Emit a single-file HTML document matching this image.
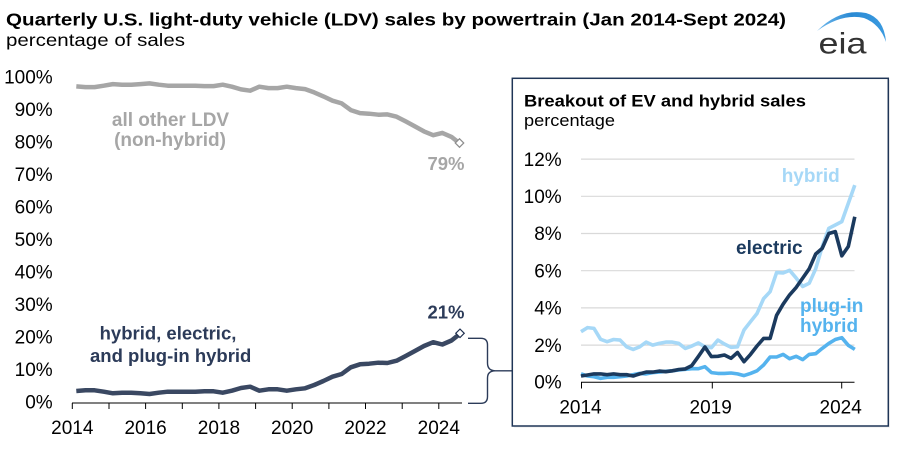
<!DOCTYPE html>
<html><head><meta charset="utf-8"><style>
html,body{margin:0;padding:0;background:#fff;}
svg{display:block;font-family:"Liberation Sans",Arial,sans-serif;}
</style></head><body>
<svg width="900" height="454" viewBox="0 0 900 454" xmlns="http://www.w3.org/2000/svg">
<defs><linearGradient id="g" x1="0" x2="1" y1="0" y2="0"><stop offset="0" stop-color="#6fb8ec"/><stop offset="0.5" stop-color="#2a8ad4"/><stop offset="1" stop-color="#3b9be0"/></linearGradient></defs>
<rect width="900" height="454" fill="#fff"/>
<!-- title -->
<text x="6" y="25.5" font-size="17.5" font-weight="bold" fill="#000" textLength="780" lengthAdjust="spacingAndGlyphs">Quarterly U.S. light-duty vehicle (LDV) sales by powertrain (Jan 2014-Sept 2024)</text>
<text x="6" y="46" font-size="17.5" fill="#000" textLength="179" lengthAdjust="spacingAndGlyphs">percentage of sales</text>
<!-- eia logo -->
<path d="M817,31 Q840,8 866,13 Q884,18 886,42 Q880,24 864,18 Q842,13 817,31 Z" fill="url(#g)"/>
<text x="818.5" y="53.3" font-size="30" fill="#333" textLength="48" lengthAdjust="spacingAndGlyphs">eia</text>

<!-- main y labels -->
<g font-size="19" fill="#000" text-anchor="end">
<text x="52.7" y="83.3">100%</text>
<text x="52.7" y="115.8">90%</text>
<text x="52.7" y="148.3">80%</text>
<text x="52.7" y="180.8">70%</text>
<text x="52.7" y="213.3">60%</text>
<text x="52.7" y="245.8">50%</text>
<text x="52.7" y="278.3">40%</text>
<text x="52.7" y="310.8">30%</text>
<text x="52.7" y="343.3">20%</text>
<text x="52.7" y="375.8">10%</text>
<text x="52.7" y="408.3">0%</text>
</g>
<!-- main x axis -->
<g stroke="#000" stroke-width="1">
<line x1="72" y1="403" x2="462" y2="403"/>
<line x1="72.3" y1="403" x2="72.3" y2="409"/>
<line x1="109" y1="403" x2="109" y2="409"/>
<line x1="145.6" y1="403" x2="145.6" y2="409"/>
<line x1="182.3" y1="403" x2="182.3" y2="409"/>
<line x1="218.9" y1="403" x2="218.9" y2="409"/>
<line x1="255.6" y1="403" x2="255.6" y2="409"/>
<line x1="292.2" y1="403" x2="292.2" y2="409"/>
<line x1="328.9" y1="403" x2="328.9" y2="409"/>
<line x1="365.5" y1="403" x2="365.5" y2="409"/>
<line x1="402.2" y1="403" x2="402.2" y2="409"/>
<line x1="438.8" y1="403" x2="438.8" y2="409"/>
</g>
<g font-size="19" fill="#000" text-anchor="middle">
<text x="72.3" y="434">2014</text>
<text x="145.6" y="434">2016</text>
<text x="218.9" y="434">2018</text>
<text x="292.2" y="434">2020</text>
<text x="365.5" y="434">2022</text>
<text x="438.8" y="434">2024</text>
</g>
<!-- main series -->
<polyline fill="none" stroke="#a6a6a6" stroke-width="4.5" stroke-linejoin="round" points="76.3,86.4 85.5,87.1 94.6,87.1 103.8,85.7 112.9,84.1 122.1,84.7 131.2,84.7 140.4,84.1 149.5,83.4 158.7,84.7 167.8,85.7 177,85.7 186.1,85.7 195.3,85.7 204.4,86.1 213.6,86.1 222.7,84.7 231.9,86.7 241,89.4 250.2,90.7 259.3,86.7 268.5,88.1 277.6,88.1 286.8,86.7 295.9,88.1 305.1,89.1 314.2,92.4 323.4,96.4 332.5,100.7 341.7,103.4 350.8,110.1 360,113.1 369.1,113.7 378.3,114.7 387.4,114.4 396.6,116.7 405.7,121.4 414.9,126.4 424,131.4 433.2,135.2 442.3,132.9 451.5,136.9 460.6,144.1"/>
<polyline fill="none" stroke="#3a4862" stroke-width="4.5" stroke-linejoin="round" points="76.3,391 85.5,390.3 94.6,390.3 103.8,391.7 112.9,393.3 122.1,392.7 131.2,392.7 140.4,393.3 149.5,394 158.7,392.7 167.8,391.7 177,391.7 186.1,391.7 195.3,391.7 204.4,391.3 213.6,391.3 222.7,392.7 231.9,390.7 241,388 250.2,386.7 259.3,390.7 268.5,389.3 277.6,389.3 286.8,390.7 295.9,389.3 305.1,388.3 314.2,385 323.4,381 332.5,376.7 341.7,374 350.8,367.3 360,364.3 369.1,363.7 378.3,362.7 387.4,363 396.6,360.7 405.7,356 414.9,351 424,346 433.2,342.2 442.3,344.5 451.5,340.5 460.6,333.3"/>
<rect x="456.5" y="140" width="6" height="6" fill="#fff" stroke="#8c8c8c" stroke-width="1.2" transform="rotate(45 459.5 143)"/>
<rect x="457" y="330.3" width="6" height="6" fill="#fff" stroke="#1f2f4f" stroke-width="1.2" transform="rotate(45 460 333.3)"/>
<!-- main labels -->
<g font-size="19" font-weight="bold" text-anchor="middle">
<text x="170.5" y="126" fill="#a6a6a6">all other LDV</text>
<text x="170" y="146" fill="#a6a6a6">(non-hybrid)</text>
<text x="446" y="170" fill="#a6a6a6" font-size="18.5">79%</text>
<text x="446" y="318.5" fill="#2c3b59" font-size="18.5">21%</text>
<text x="168" y="339.5" fill="#2c3b59" font-size="18.5">hybrid, electric,</text>
<text x="170.7" y="362" fill="#2c3b59" font-size="18.5">and plug-in hybrid</text>
</g>
<!-- brace -->
<path d="M468,338.3 L481,338.3 Q487.5,338.3 487.5,345 L487.5,363 Q487.5,370.5 495,370.8 L512,370.8 M495,370.8 Q487.5,371 487.5,378 L487.5,396.5 Q487.5,403.3 481,403.3 L468,403.3" fill="none" stroke="#2c3b59" stroke-width="1.4"/>

<!-- inset box -->
<rect x="514" y="80" width="376" height="347.7" fill="#e6e6e6" opacity="0.6"/>
<rect x="512.3" y="78.3" width="376" height="347.7" fill="#fff" stroke="#1f3557" stroke-width="1.5"/>
<text x="524" y="106.7" font-size="16.3" font-weight="bold" fill="#000" textLength="282" lengthAdjust="spacingAndGlyphs">Breakout of EV and hybrid sales</text>
<text x="524" y="126" font-size="16.3" fill="#000" textLength="91" lengthAdjust="spacingAndGlyphs">percentage</text>
<!-- gridlines -->
<g stroke="#d9d9d9" stroke-width="1.2">
<line x1="581" y1="159.1" x2="854.5" y2="159.1"/>
<line x1="581" y1="196.3" x2="854.5" y2="196.3"/>
<line x1="581" y1="233.5" x2="854.5" y2="233.5"/>
<line x1="581" y1="270.7" x2="854.5" y2="270.7"/>
<line x1="581" y1="307.9" x2="854.5" y2="307.9"/>
<line x1="581" y1="345.1" x2="854.5" y2="345.1"/>
</g>
<g font-size="19" fill="#000" text-anchor="end">
<text x="561.7" y="165.8">12%</text>
<text x="561.7" y="203">10%</text>
<text x="561.7" y="240.2">8%</text>
<text x="561.7" y="277.4">6%</text>
<text x="561.7" y="314.6">4%</text>
<text x="561.7" y="351.8">2%</text>
<text x="561.7" y="388.6">0%</text>
</g>
<g stroke="#000" stroke-width="1">
<line x1="581" y1="382.3" x2="854.5" y2="382.3"/>
<line x1="581.5" y1="382.3" x2="581.5" y2="388.5"/>
<line x1="712.3" y1="382.3" x2="712.3" y2="388.5"/>
<line x1="841.7" y1="382.3" x2="841.7" y2="388.5"/>
</g>
<g font-size="19" fill="#000" text-anchor="middle">
<text x="580.5" y="413.3">2014</text>
<text x="710.7" y="413.3">2019</text>
<text x="840.7" y="413.3">2024</text>
</g>
<!-- inset series -->
<polyline fill="none" stroke="#a6d8f7" stroke-width="3.6" stroke-linejoin="round" points="581,331.7 587.5,327.6 594,328.4 600.6,339.3 607.1,341.7 613.6,339.5 620.1,340.1 626.6,346.8 633.2,349.4 639.7,346.8 646.2,342.1 652.7,345.1 659.2,343.4 665.8,342.1 672.3,342.1 678.8,343.4 685.3,348.4 691.8,346 698.4,342.9 704.9,346.8 711.4,347.7 717.9,340.1 724.4,344 731,347.3 737.5,346.8 744,330 750.5,321.7 757,313.5 763.6,298.6 770.1,291.7 776.6,272.6 783.1,272.9 789.6,270.3 796.2,278.1 802.7,286.5 809.2,283.3 815.7,268.8 822.2,246.7 828.8,228.3 835.3,225 841.8,221.6 848.3,203.4 854.8,185.1"/>
<polyline fill="none" stroke="#55b3ee" stroke-width="3.6" stroke-linejoin="round" points="581,373.9 587.5,376 594,376.7 600.6,378.4 607.1,377.3 613.6,377.3 620.1,376.7 626.6,376 633.2,374.7 639.7,373.4 646.2,373.9 652.7,372.6 659.2,372.1 665.8,371.3 672.3,370.8 678.8,370 685.3,369.3 691.8,368.7 698.4,368.7 704.9,366.7 711.4,372.6 717.9,373.4 724.4,373.4 731,373 737.5,373.9 744,375.6 750.5,373.4 757,370.8 763.6,365 770.1,357 776.6,357 783.1,354.4 789.6,358.7 796.2,356.3 802.7,359.6 809.2,354.4 815.7,353.7 822.2,348.4 828.8,343.4 835.3,339.5 841.8,337.7 848.3,345.3 854.8,349.4"/>
<polyline fill="none" stroke="#1b3a5e" stroke-width="3.6" stroke-linejoin="round" points="581,376 587.5,375 594,373.9 600.6,373.9 607.1,374.7 613.6,373.9 620.1,374.7 626.6,374.7 633.2,376 639.7,373.9 646.2,372.1 652.7,372.1 659.2,371.1 665.8,371.7 672.3,370.8 678.8,369.5 685.3,368.9 691.8,365.6 698.4,356.4 704.9,347 711.4,356.6 717.9,356.3 724.4,355 731,358.3 737.5,352.5 744,361.7 750.5,354.4 757,346 763.6,338.4 770.1,338.4 776.6,315.3 783.1,304.2 789.6,294.9 796.2,287.4 802.7,278.1 809.2,268.8 815.7,254 822.2,248.4 828.8,233.5 835.3,231.6 841.8,255.8 848.3,246.5 854.8,216.8"/>
<g font-size="19" font-weight="bold">
<text x="781.7" y="182" fill="#a6d8f7">hybrid</text>
<text x="736" y="253.8" fill="#1b3a5e">electric</text>
<text x="800" y="312" fill="#55b3ee">plug-in</text>
<text x="800" y="332" fill="#55b3ee">hybrid</text>
</g>
</svg>
</body></html>
